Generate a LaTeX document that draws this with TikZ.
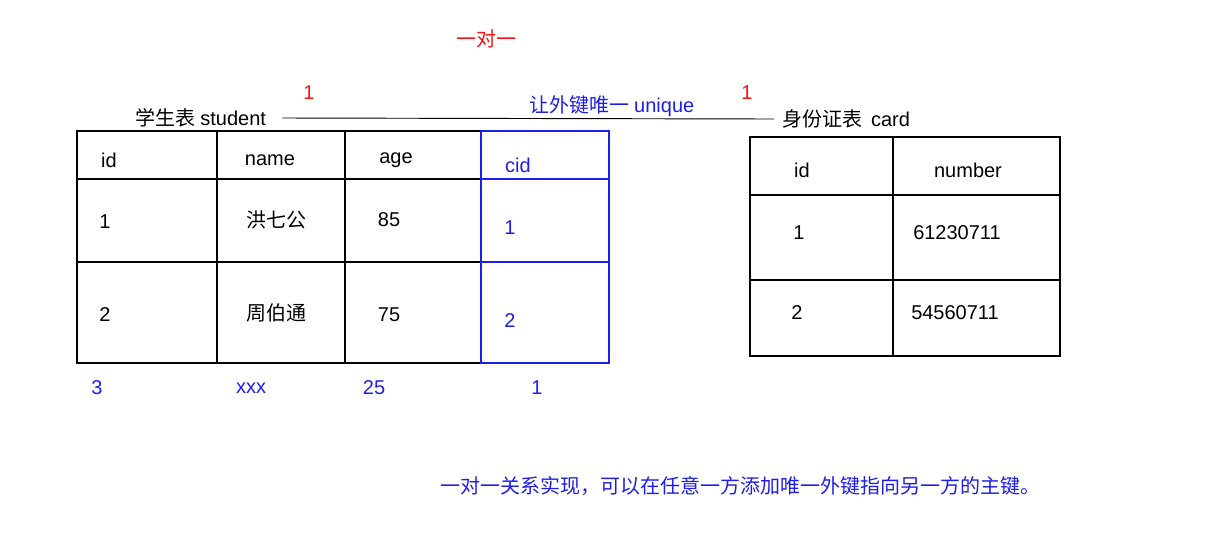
\documentclass[tikz,border=0pt]{standalone}
\usepackage{fontspec}
\setmainfont{Liberation Sans}
\newfontfamily\cjk{Noto Sans CJK SC}
\usetikzlibrary{positioning}

\definecolor{fkblue}{RGB}{30,30,230}
\definecolor{relred}{RGB}{240,20,20}

\tikzset{
  cell/.style={font=\fontsize{15}{18}\selectfont, inner sep=0pt},
  fkcell/.style={cell, text=fkblue},
  redlabel/.style={cell, text=relred},
  grid line/.style={line width=0.8pt},
  fk line/.style={line width=0.8pt, draw=fkblue}
}

\begin{document}
\begin{tikzpicture}[x=0.75pt, y=-0.75pt]
  \useasboundingbox (0,0) rectangle (1232,547);
  % Table student
  \draw[grid line] (481,131) -- (77,131) -- (77,363) -- (481,363);
  \draw[grid line] (77,179) -- (481,179) (77,262) -- (481,262);
  \foreach \x in {217,345}
    \draw[grid line] (\x,131) -- (\x,363);
  \draw[fk line] (481,131) rectangle (609,363);
  \draw[fk line] (481,179) -- (609,179) (481,262) -- (609,262);
  \node[cell] (sid) at (109,160) {id};
  \node[cell] (sname) at (270,160) {name};
  \node[cell] (sage) at (396,160) {age};
  \node[fkcell] (scid) at (518,165) {cid};
  \node[cell] (sone) at (105,222) {1};
  \node[cell] (sonename) at (276,220) {\cjk 洪七公};
  \node[cell] (soneage) at (389,220) {85};
  \node[fkcell] (sonecid) at (510,228) {1};
  \node[cell] (stwo) at (105,315) {2};
  \node[cell] (stwoname) at (276,313) {\cjk 周伯通};
  \node[cell] (stwoage) at (389,315) {75};
  \node[fkcell] (stwocid) at (510,321) {2};
  % Extra row in blue
  \node[fkcell] (xid) at (97,388) {3};
  \node[fkcell] (xname) at (251,388) {xxx};
  \node[fkcell] (xage) at (374,388) {25};
  \node[fkcell] (xcid) at (537,388) {1};
  % Table card
  \draw[grid line] (750,137) rectangle (1060,356);
  \draw[grid line] (750,195) -- (1060,195) (750,280) -- (1060,280);
  \draw[grid line] (893,137) -- (893,356);
  \node[cell] (cid) at (802,170) {id};
  \node[cell] (cnumber) at (968,170) {number};
  \node[cell] (cone) at (799,233) {1};
  \node[cell] (conenum) at (957,233) {61230711};
  \node[cell] (ctwo) at (797,313) {2};
  \node[cell] (ctwonum) at (955,313) {54560711};
  % Relation
  \node[cell] (student) at (201,118) {\cjk 学生表\ \rmfamily student};
  \node[cell] (card) at (846,119) {\cjk 身份证表\ \ \rmfamily card};
  \draw[line width=0.7pt] ([xshift=12pt]student.east) -- ([xshift=-6pt]card.west);
  \node[redlabel] (lone) at (309,93) {1};
  \node[redlabel] (rone) at (747,93) {1};
  \node[fkcell] (unique) at (612,106) {\cjk 让外键唯一\ \rmfamily unique};
  \node[redlabel] (title) at (486,39) {\cjk 一对一};
  % Note
  \node[fkcell] (note) at (740,486) {\cjk 一对一关系实现，可以在任意一方添加唯一外键指向另一方的主键。};
\end{tikzpicture}
\end{document}
